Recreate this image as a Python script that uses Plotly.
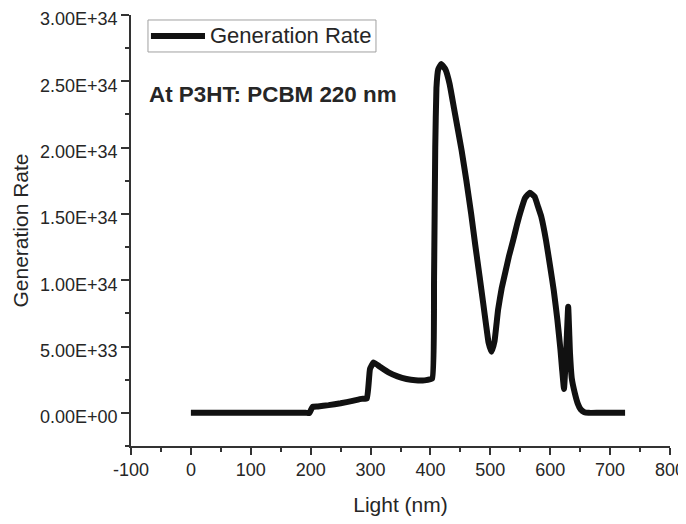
import plotly.graph_objects as go

# Wavelength (nm) and generation rate
wavelength_nm = [0, 50, 100, 150, 192, 198, 203, 212, 230, 250, 270, 285, 294,
                 299, 305, 315, 330, 345, 360, 375, 390, 403,
                 406, 408, 410, 413, 418, 425, 432, 440, 452, 460, 468,
                 475, 482, 488, 493, 497, 502, 507, 513, 519, 525, 531,
                 538, 544, 550, 558, 566, 574, 580, 585, 593, 600, 606,
                 612, 617, 620, 623, 627, 630, 633, 636, 641, 646, 651,
                 657, 664, 680, 700, 725]
generation_rate = [0, 0, 0, 0, 0, 0, 0.45e33, 0.48e33, 0.58e33, 0.72e33, 0.9e33, 1.05e33, 1.1e33,
                   3.3e33, 3.8e33, 3.5e33, 3.05e33, 2.75e33, 2.55e33, 2.45e33, 2.45e33, 2.6e33,
                   10e33, 20e33, 24.5e33, 25.9e33, 26.3e33, 25.9e33, 24.8e33, 22.8e33, 19.8e33, 17.5e33, 15.0e33,
                   12.6e33, 10.3e33, 8.3e33, 6.6e33, 5.3e33, 4.6e33, 5.4e33, 7.8e33, 9.4e33, 10.6e33, 11.8e33,
                   13.0e33, 14.1e33, 15.1e33, 16.2e33, 16.6e33, 16.3e33, 15.5e33, 14.8e33, 13.0e33, 11.0e33, 9.2e33,
                   7.0e33, 4.8e33, 3.2e33, 1.8e33, 5.0e33, 8.0e33, 4.5e33, 2.6e33, 1.5e33, 0.7e33, 0.25e33,
                   0.05e33, 0, 0, 0, 0]

x_tick_vals = [-100, 0, 100, 200, 300, 400, 500, 600, 700, 800]
x_tick_text = ["-100", "0", "100", "200", "300", "400", "500", "600", "700", "800"]
y_tick_vals = [0, 5e33, 1e34, 1.5e34, 2e34, 2.5e34, 3e34]
y_tick_text = ["0.00E+00", "5.00E+33", "1.00E+34", "1.50E+34", "2.00E+34", "2.50E+34", "3.00E+34"]

series_name = "Generation Rate"
note_text = "At P3HT: PCBM 220 nm"

FONT = "Liberation Sans, Arial, sans-serif"
AXIS_COLOR = "#333333"
TEXT_COLOR = "#262626"
LINE_COLOR = "#111111"

fig = go.Figure()
fig.add_trace(go.Scatter(
    x=wavelength_nm, y=generation_rate, mode="lines", name=series_name,
    line=dict(color=LINE_COLOR, width=6, shape="spline", smoothing=0.3),
    showlegend=False,
))

# Legend box drawn like the original (compact framed key)
fig.add_shape(type="rect", xref="paper", yref="paper", x0=0.0315, x1=0.4545, y0=0.9142, y1=0.9884,
              line=dict(color="#a0a0a0", width=1), fillcolor="white", layer="above")
fig.add_shape(type="line", xref="paper", yref="paper", x0=0.037, x1=0.1373, y0=0.9513, y1=0.9513,
              line=dict(color=LINE_COLOR, width=6), layer="above")

fig.update_layout(
    width=678, height=508,
    margin=dict(l=123, r=16, t=7, b=70, autoexpand=False),
    paper_bgcolor="white", plot_bgcolor="white",
    font=dict(family=FONT, color=TEXT_COLOR, size=18),
    showlegend=False,
    xaxis=dict(range=[-100, 800], tickvals=x_tick_vals, ticktext=x_tick_text, automargin=False,
               showgrid=False, zeroline=False, showline=True, linecolor=AXIS_COLOR, linewidth=1.5,
               ticks="outside", ticklen=7, tickwidth=1.5, tickcolor=AXIS_COLOR,
               minor=dict(dtick=50, ticks="outside", ticklen=4, tickwidth=1.5, tickcolor=AXIS_COLOR),
               tickfont=dict(size=18), ticklabeloverflow="allow",
               title=dict(text="Light (nm)", font=dict(size=21), standoff=24)),
    yaxis=dict(range=[-2.5e33, 3e34], tickvals=y_tick_vals, ticktext=y_tick_text, automargin=False,
               showgrid=False, zeroline=False, showline=True, linecolor=AXIS_COLOR, linewidth=1.5,
               ticks="outside", ticklen=8, tickwidth=1.5, tickcolor=AXIS_COLOR,
               minor=dict(dtick=2.5e33, ticks="outside", ticklen=4, tickwidth=1.5, tickcolor=AXIS_COLOR),
               tickfont=dict(size=18), ticklabeloverflow="allow", ticklabelshift=4,
               title=dict(text="Generation Rate", font=dict(size=21), standoff=6)),
    annotations=[
        dict(text=series_name, x=0.1429, y=0.9513, xref="paper", yref="paper",
             xanchor="left", yanchor="middle", showarrow=False,
             font=dict(size=22, family=FONT, color=TEXT_COLOR)),
        dict(text="<b>" + note_text + "</b>", x=0.0297, y=0.8167, xref="paper", yref="paper",
             xanchor="left", yanchor="middle", showarrow=False,
             font=dict(size=22.4, family=FONT, color=TEXT_COLOR)),
    ],
)

fig.write_html("out.html", config={"displayModeBar": False})
